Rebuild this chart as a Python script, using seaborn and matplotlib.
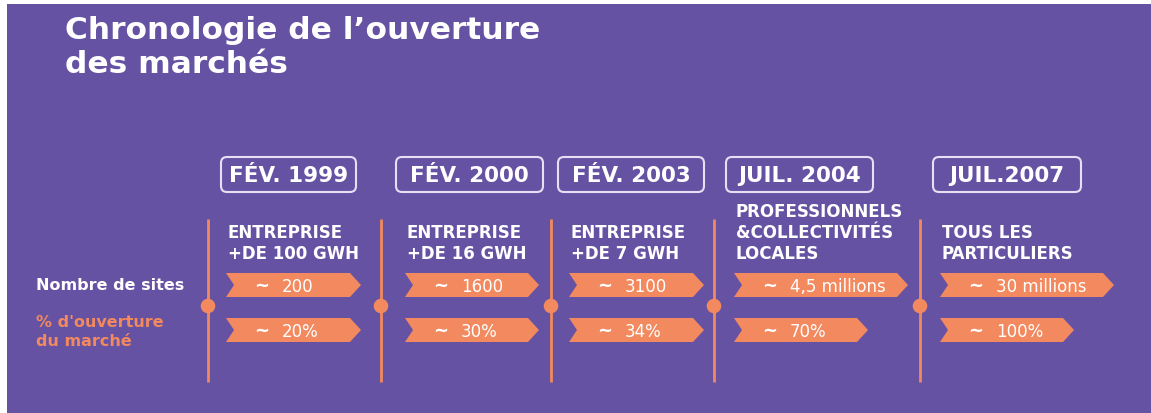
import matplotlib
matplotlib.use("Agg")
import matplotlib.pyplot as plt
import seaborn as sns
import pandas as pd
from matplotlib.patches import Polygon, FancyBboxPatch, Rectangle

# ---- données ----
dates = ["FÉV. 1999", "FÉV. 2000", "FÉV. 2003", "JUIL. 2004", "JUIL.2007"]
cibles = ["ENTREPRISE\n+DE 100 GWH", "ENTREPRISE\n+DE 16 GWH", "ENTREPRISE\n+DE 7 GWH",
          "PROFESSIONNELS\n&COLLECTIVITÉS\nLOCALES", "TOUS LES\nPARTICULIERS"]
nb_sites = ["200", "1600", "3100", "4,5 millions", "30 millions"]
ouverture = ["20%", "30%", "34%", "70%", "100%"]

# ---- mise en page (pixels) ----
line_x = [208, 381, 551, 714, 920]
box_x = [221, 396, 558, 726, 933]
box_w = [135, 147, 146, 147, 148]
arrow_x = [226, 405, 569, 734, 940]
arrow_w_sites = [135, 134, 135, 174, 174]
arrow_w_pct = [135, 134, 135, 134, 134]

PURPLE = "#6652A3"
ORANGE = "#F2895F"
WHITE = "#FFFFFF"
LAVANDE = "#E6E0F5"

sns.set_theme(style="white")
plt.rcParams["font.family"] = ["DejaVu Sans"]

fig = plt.figure(figsize=(11.51, 4.14), dpi=100)
ax = fig.add_axes([0, 0, 1, 1])

ax.add_patch(Rectangle((7, 5), 1151, 414, facecolor=PURPLE, edgecolor="none", zorder=0))

# titre
ax.text(65, 73, "Chronologie de l\u2019ouverture\ndes marchés", color=WHITE, fontsize=22.5,
        fontweight="bold", va="baseline", ha="left", linespacing=1.22)

# légende à gauche
ax.text(36, 286, "Nombre de sites", color=WHITE, fontsize=11.5, fontweight="bold", va="center")
ax.text(36, 332, "% d'ouverture\ndu marché", color=ORANGE, fontsize=11.5, fontweight="bold",
        va="center", linespacing=1.3)


def fleche(x0, yc, w, h=24, tip=11, notch=8):
    pts = [(x0, yc - h / 2), (x0 + w - tip, yc - h / 2), (x0 + w, yc),
           (x0 + w - tip, yc + h / 2), (x0, yc + h / 2), (x0 + notch, yc)]
    ax.add_patch(Polygon(pts, closed=True, facecolor=ORANGE, edgecolor="none", zorder=2))


for i, d in enumerate(dates):
    lx = line_x[i]
    ax.plot([lx, lx], [220, 383], color=ORANGE, lw=2, zorder=1, solid_capstyle="butt")

    ax.add_patch(FancyBboxPatch((box_x[i], 158), box_w[i], 35,
                                boxstyle="round,pad=0,rounding_size=6",
                                facecolor="none", edgecolor=LAVANDE, lw=1.5, zorder=2))
    ax.text(box_x[i] + box_w[i] / 2, 176, d, color=WHITE, fontsize=15.5, fontweight="bold",
            ha="center", va="center", zorder=3)

    ax.text(arrow_x[i] + 2, 259, cibles[i], color=WHITE, fontsize=12, fontweight="bold",
            ha="left", va="baseline", linespacing=1.2, zorder=3)

    fleche(arrow_x[i], 286, arrow_w_sites[i])
    fleche(arrow_x[i], 331, arrow_w_pct[i])
    for yc, val in [(286, nb_sites[i]), (331, ouverture[i])]:
        ax.text(arrow_x[i] + 28, yc, "~", color=WHITE, fontsize=13, fontweight="bold",
                ha="left", va="center", zorder=3)
        ax.text(arrow_x[i] + 56, yc + 1, val, color=WHITE, fontsize=12,
                ha="left", va="center", zorder=3)

dots = pd.DataFrame({"date": dates, "x": line_x, "y": [307] * len(dates)})
sns.scatterplot(data=dots, x="x", y="y", s=110, color=ORANGE, edgecolor="none",
                ax=ax, zorder=4, legend=False)
ax.set_xlim(0, 1151)
ax.set_ylim(414, 0)
ax.axis("off")

fig.savefig("out.png", dpi=100, facecolor="white")
